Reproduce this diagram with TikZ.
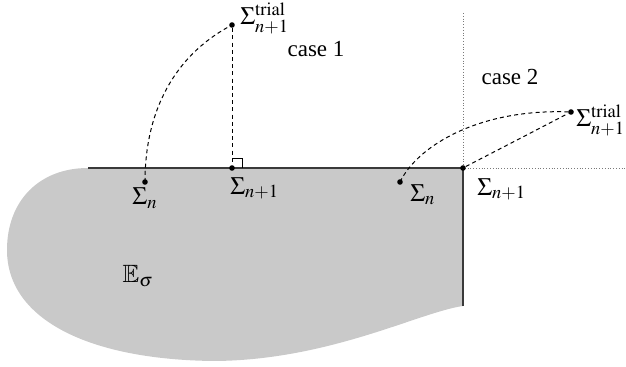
\documentclass[tikz,border=0pt]{standalone}
\usepackage{mathptmx}
\usepackage{amssymb}
\usepackage{fontspec}
\setmainfont{Liberation Serif}
\usetikzlibrary{positioning}
\definecolor{regiongray}{HTML}{C9C9C9}
\definecolor{edgegray}{HTML}{3A3A3A}
\definecolor{guidegray}{HTML}{7A7A7A}

\begin{document}
\begin{tikzpicture}[x=0.5pt,y=-0.5pt,font=\fontsize{11.5}{13}\selectfont,
    dot/.style={circle,fill=black,inner sep=0pt,minimum size=2.8pt},
    lbl/.style={inner sep=1pt,font=\fontsize{12.5}{14}\selectfont},
    trialpath/.style={line width=0.5pt,dash pattern=on 2pt off 1.6pt},
    guide/.style={guidegray,line width=0.4pt,densely dotted},
    edge/.style={edgegray,line width=0.8pt}]
  \useasboundingbox (0,0) rectangle (626,367);

  % admissible region
  \fill[regiongray] (88,168) -- (463,168) -- (463,306)
    .. controls (420,312) and (330,360) .. (215,361)
    .. controls (90,360) and (7,320) .. (7,250)
    .. controls (7,200) and (40,168) .. (88,168) -- cycle;
  \draw[edge] (88,168) -- (463,168) -- (463,306);
  \draw[guide] (463,13) -- (463,168) -- (626,168);
  \node[lbl] (region) at (138,276) {$\mathbb{E}_\sigma$};

  % case 1
  \node[dot] (sn1) at (145,182) {};
  \node[dot] (sp1) at (232,168) {};
  \node[dot] (tr1) at (232,25) {};
  \draw[trialpath] (sn1.center) .. controls +(0,-80) and +(-50,26) .. (tr1.center);
  \draw[trialpath] (tr1) -- (sp1);
  \draw[line width=0.4pt] (232,158) -- (242,158) -- (242,168);
  \node[lbl,anchor=north] (sn1l) at (sn1.south) {$\Sigma_n$};
  \node[lbl,anchor=north west] (sp1l) at (228,175) {$\Sigma_{n+1}$};
  \node[lbl,anchor=base west] (tr1l) at (238,25) {$\Sigma^{\mathrm{trial}}_{n+1}$};
  \node[inner sep=1pt] (case1) at (316,49) {case 1};

  % case 2
  \node[dot] (sn2) at (400,182) {};
  \node[dot] (sp2) at (463,168) {};
  \node[dot] (tr2) at (571,112) {};
  \draw[trialpath] (sn2.center) .. controls +(18,-37) and +(-90,-4) .. (tr2.center);
  \draw[trialpath] (sp2) -- (tr2);
  \node[lbl,anchor=north west] (sn2l) at (408,182) {$\Sigma_n$};
  \node[lbl,anchor=north west] (sp2l) at (475,176) {$\Sigma_{n+1}$};
  \node[lbl,anchor=base west] (tr2l) at (574,127) {$\Sigma^{\mathrm{trial}}_{n+1}$};
  \node[inner sep=1pt] (case2) at (510,77) {case 2};
\end{tikzpicture}
\end{document}
